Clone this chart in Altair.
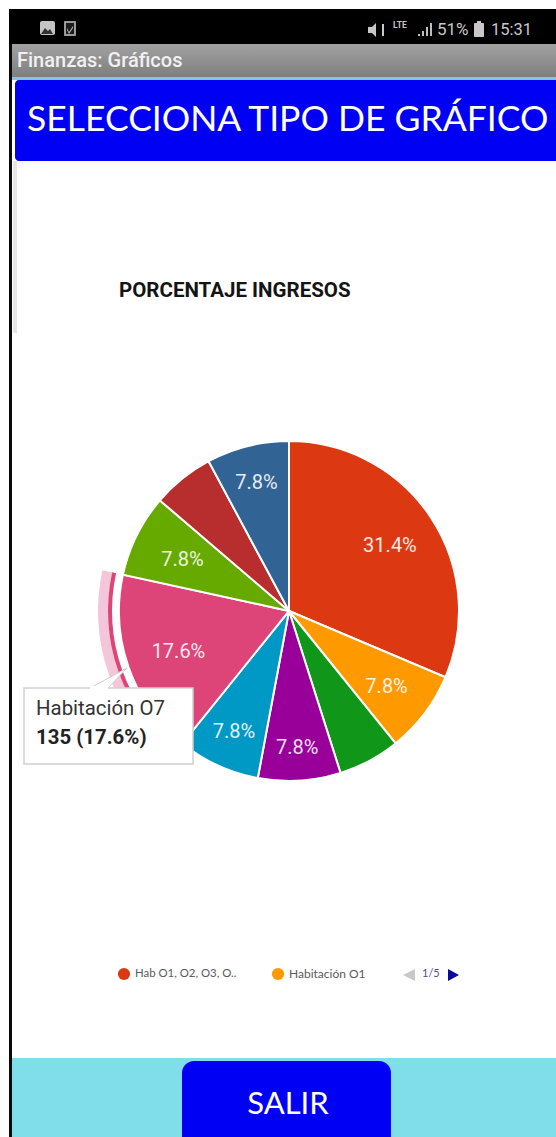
import math
import altair as alt

# Income per room, in the order the slices run clockwise from twelve o'clock
rooms = ["Hab O1, O2, O3, O..", "Habitación O1", "Habitación O2", "Habitación O3",
         "Habitación O5", "Habitación O7", "Habitación O8", "Habitación O9", "Habitación 10"]
income = [240, 60, 45, 60, 60, 135, 60, 45, 60]
colors = ["#DC3912", "#FF9900", "#109618", "#990099", "#0099C6",
          "#DD4477", "#66AA00", "#B82E2E", "#316395"]
MIN_LABELLED_SHARE = 0.07
SELECTED = "Habitación O7"

W, H = 556, 1137
CX, CY, R = 289, 611, 170

total = sum(income)
rows = []
running = 0
for i, (room, value) in enumerate(zip(rooms, income)):
    share = value / total
    mid = running + value / 2
    running += value
    rows.append({
        "order": i,
        "room": room,
        "income": value,
        "mid": mid,
        "label": f"{share * 100:.1f}%" if share >= MIN_LABELLED_SHARE else "",
        # Labels sit further out near the vertical, where the text box is shallow
        "label_radius": 115 + 20 * math.cos(2 * math.pi * mid / total) ** 2,
    })
anchor = alt.Data(values=[{"k": 0}])


def box(x0, y0, x1, y1, fill, **mark):
    return alt.Chart(anchor).mark_rect(color=fill, **mark).encode(
        x=alt.value(x0), x2=alt.value(x1), y=alt.value(y0), y2=alt.value(y1))


def label(x, y, content, size, color, font="Roboto", weight="normal", align="left", **mark):
    return alt.Chart(anchor).mark_text(
        text=content, fontSize=size, color=color, font=font, fontWeight=weight,
        align=align, baseline="middle", **mark
    ).encode(x=alt.value(x), y=alt.value(y))


def glyph(x, y, shape, fill, size=4, **mark):
    # Custom paths are in pixels at size 4
    return alt.Chart(anchor).mark_point(
        shape=shape, filled=True, fill=fill, size=size, opacity=1, **mark
    ).encode(x=alt.value(x), y=alt.value(y))


turn = alt.Scale(domain=[0, total], range=[0, 2 * math.pi])
theta = alt.Theta("income:Q", stack=True, scale=turn)
order = alt.Order("order:O", sort="ascending")
position = {"x": alt.value(CX), "y": alt.value(CY)}
only_selected = alt.condition(f"datum.room === '{SELECTED}'", alt.value(1), alt.value(0))

wedges = alt.Chart(alt.Data(values=rows)).mark_arc(
    outerRadius=R, stroke="white", strokeWidth=2
).encode(
    theta=theta, order=order,
    color=alt.Color("room:N", scale=alt.Scale(domain=rooms, range=colors), legend=None),
    **position)

halo_outer = alt.Chart(alt.Data(values=rows)).mark_arc(
    innerRadius=181, outerRadius=191, color="#F5C6DA"
).encode(theta=theta, order=order, opacity=only_selected, **position)

halo_inner = alt.Chart(alt.Data(values=rows)).mark_arc(
    innerRadius=177, outerRadius=181, color="#DD4477"
).encode(theta=theta, order=order, opacity=only_selected, **position)

# Each label has its own radius, which would split a stacked theta into groups,
# so the slice midpoints go through the same angular scale directly
percent = alt.Chart(alt.Data(values=rows)).mark_text(
    font="Roboto", fontSize=20, color="white", opacity=0.88, align="center", baseline="middle"
).encode(
    theta=alt.Theta("mid:Q", stack=None, scale=turn),
    radius=alt.Radius("label_radius:Q", scale=None),
    text="label:N", x=alt.value(CX), y=alt.value(CY + 2))

bar_gradient = alt.Gradient(
    gradient="linear", x1=0, y1=0, x2=0, y2=1,
    stops=[alt.GradientStop(offset=0, color="#A2A2A2"),
           alt.GradientStop(offset=1, color="#7E7E7E")])

chrome = [
    box(0, 0, W, H, "white"),
    # Device frame and status bar
    box(9, 44, 12, H, "#0A0A0A"),
    box(9, 9, W, 44, "#000000"),
    box(12, 44, W, 77, bar_gradient),
    box(12, 77, W, 80, "#7FC4EA"),
    box(13, 161, 17, 333, "#E6E6E6", cornerRadiusBottomLeft=4),
    box(15, 80, W, 161, "#0000F4", cornerRadiusTopLeft=4, cornerRadiusBottomLeft=4),
    # Status bar icons
    box(40, 21, 55, 35, "#C4C4C4", cornerRadius=2),
    glyph(47, 29, "M -6 5 L -2 -1 L 1 2 L 3 0 L 6 5 Z", "#333333"),
    box(64, 21, 76, 36, "#9A9A9A", cornerRadius=1),
    box(66, 23, 74, 34, "#1C1C1C"),
    glyph(70, 29, "M -3 -1 L -1 3 L 3 -3 L 3 -1 L -1 5 L -3 1 Z", "#B0B0B0"),
    glyph(376, 30, "M -8 -3 L -4 -3 L 0 -7 L 0 7 L -4 3 L -8 3 Z", "#C8C8C8"),
    box(382, 24, 384, 36, "#C8C8C8"),
    label(393, 25, "LTE", 8.5, "#C4C4C4", weight="bold"),
    box(418, 34, 420, 36, "#BDBDBD"),
    box(422, 31, 424, 36, "#BDBDBD"),
    box(426, 27, 428, 36, "#BDBDBD"),
    box(430, 23, 432, 36, "#BDBDBD"),
    label(437, 30, "51%", 17, "#C8C8C8"),
    box(474, 23, 484, 37, "#C8C8C8", cornerRadius=1),
    box(477, 21, 481, 23, "#C8C8C8"),
    label(491, 30, "15:31", 16.5, "#C8C8C8"),
    label(17, 61, "Finanzas: Gráficos", 20, "#F1F1F1", weight=500),
    # Header banner and chart title
    label(27, 120, "SELECCIONA TIPO DE GRÁFICO", 35.5, "white", font="Lato"),
    label(119, 291, "PORCENTAJE INGRESOS", 20.5, "#141414", weight="bold"),
]

callout = [
    glyph(108, 679, "M -18 9 L 19 -11 L 0 9 Z", "white", stroke="#CCCCCC", strokeWidth=1),
    box(24, 688, 193, 764, "white", stroke="#CFCFCF", strokeWidth=1.5),
    box(90, 686, 108, 690, "white"),
    label(36, 709, "Habitación O7", 20.4, "#333333"),
    label(36, 738, "135 (17.6%)", 20.4, "#222222", weight="bold"),
]

legend = [
    glyph(124, 974, "circle", colors[0], size=150),
    label(135, 974, rooms[0], 11.4, "#5A5A5A", font="Lato"),
    glyph(278, 974, "circle", colors[1], size=150),
    label(289, 974, rooms[1], 12, "#5A5A5A", font="Lato"),
    glyph(409, 975, "M 6 -6 L -6 0 L 6 6 Z", "#C8C8C8"),
    label(422, 974, "1/5", 11, "#50508A", font="Lato"),
    glyph(453, 975, "M -5 -6 L 6 0 L -5 6 Z", "#0A0A9C"),
]

footer = [
    box(12, 1058, W, H, "#80DEEA"),
    box(182, 1061, 391, H + 12, "#0000F4", cornerRadius=12),
    label(288, 1105, "SALIR", 31, "white", font="Lato", align="center"),
]

chart = alt.layer(
    *chrome, halo_outer, halo_inner, wedges, percent, *callout, *legend, *footer
).properties(
    width=W, height=H, padding=0, autosize=alt.AutoSizeParams(type="none"),
    background="white"
).configure_view(stroke=None)

chart.save("out.html", embed_options={"renderer": "svg", "actions": False})
